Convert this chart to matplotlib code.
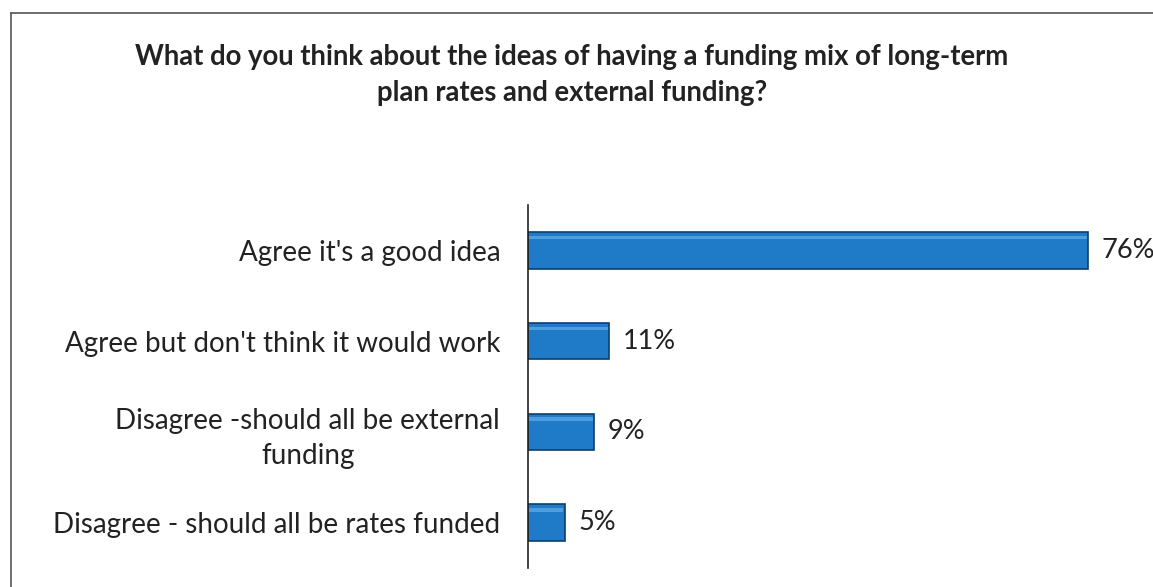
import matplotlib.pyplot as plt
from matplotlib.lines import Line2D

categories = ["Agree it's a good idea",
              "Agree but don't think it would work",
              "Disagree -should all be external\nfunding",
              "Disagree - should all be rates funded"]
values = [76, 11, 9, 5]
labels = ["76%", "11%", "9%", "5%"]

plt.rcParams['font.family'] = ['Lato', 'DejaVu Sans']

fig = plt.figure(figsize=(11.53, 5.87), dpi=100)
ax = fig.add_axes([528 / 1153, (587 - 568) / 587, (1150 - 528) / 1153, (568 - 205) / 587])

y = list(range(len(values)))
ax.barh(y, values, height=0.4, color='#1f7bc8', edgecolor='#0e3e6c', linewidth=1.2, zorder=2)
# soft top highlight on each bar
ax.barh([i - 0.14 for i in y], [v - 0.4 for v in values], left=0.2, height=0.04,
        color='#4e9ddd', linewidth=0, zorder=3)

for i, (v, t) in enumerate(zip(values, labels)):
    ax.text(v + 1.8, i, t, va='center', ha='left', fontsize=19.5, color='#222222')

ax.set_yticks(y)
ax.set_yticklabels(categories, fontsize=20, color='#222222', ha='right',
                   multialignment='center', linespacing=1.4)
ax.tick_params(axis='y', length=0, pad=20)
ax.set_ylim(len(values) - 0.5, -0.5)
ax.set_xlim(0, (1150 - 528) / 7.37)
ax.set_xticks([])
for s in ['top', 'right', 'bottom']:
    ax.spines[s].set_visible(False)
ax.spines['left'].set_linewidth(1.2)
ax.spines['left'].set_color('#222222')

fig.text(572 / 1153, 1 - 75 / 587,
         "What do you think about the ideas of having a funding mix of long-term\nplan rates and external funding?",
         ha='center', va='center', fontsize=19.8, fontweight='bold', color='#222222', linespacing=1.45)

# chart frame (top and left edges visible)
fig.add_artist(Line2D([11 / 1153, 1], [1 - 13 / 587, 1 - 13 / 587], color='#555555', lw=1.2))
fig.add_artist(Line2D([11 / 1153, 11 / 1153], [0, 1 - 13 / 587], color='#555555', lw=1.2))

fig.savefig('out.png', dpi=100, facecolor='white')
